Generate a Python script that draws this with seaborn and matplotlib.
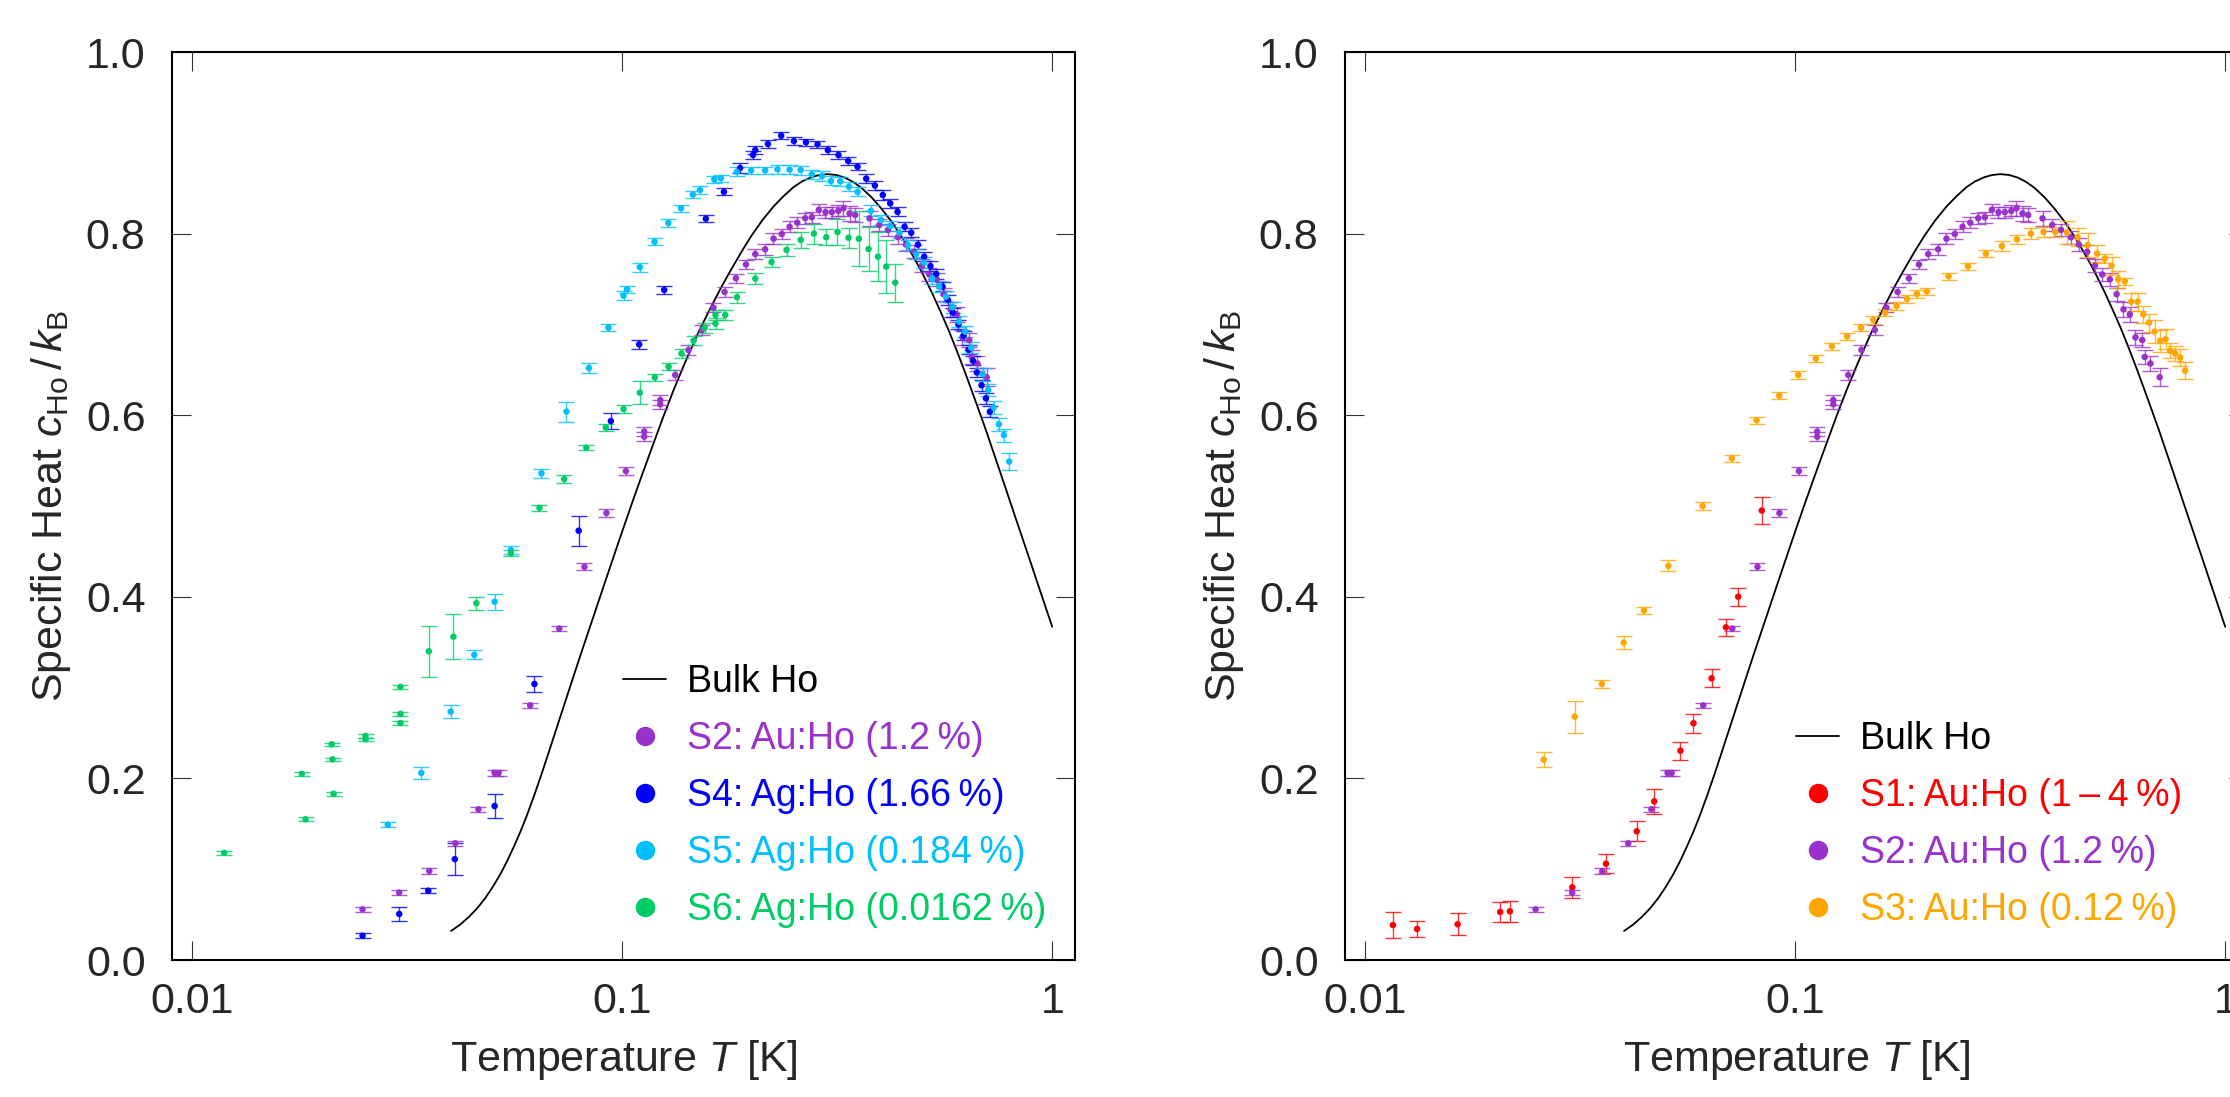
import matplotlib
matplotlib.use("Agg")
import matplotlib.pyplot as plt
from matplotlib.lines import Line2D
from matplotlib.ticker import FixedLocator, FixedFormatter, NullLocator
import seaborn as sns

sns.set_style("ticks")
plt.rcParams['font.family'] = ['Liberation Sans', 'DejaVu Sans']
plt.rcParams['mathtext.fontset'] = 'custom'
plt.rcParams['mathtext.rm'] = 'Liberation Sans'
plt.rcParams['mathtext.it'] = 'Liberation Sans:italic'

# bulk Ho curve
bulk_T = [0.040, 0.042, 0.044, 0.046, 0.048, 0.050, 0.052, 0.054, 0.056, 0.058,
          0.060, 0.0625, 0.065, 0.0675, 0.070, 0.075, 0.080, 0.085, 0.090, 0.095,
          0.100, 0.105, 0.110, 0.117, 0.125, 0.132, 0.140, 0.150, 0.160, 0.170,
          0.180, 0.190, 0.200, 0.212, 0.225, 0.237, 0.250, 0.262, 0.275, 0.287,
          0.300, 0.315, 0.330, 0.345, 0.360, 0.380, 0.400, 0.425, 0.450, 0.475,
          0.500, 0.525, 0.550, 0.575, 0.600, 0.625, 0.650, 0.675, 0.700, 0.740,
          0.780, 0.815, 0.850, 0.885, 0.920, 0.960, 1.000]
bulk_c = [0.032, 0.039, 0.0475, 0.057, 0.068, 0.0805, 0.094, 0.109, 0.125, 0.1415,
          0.159, 0.182, 0.2055, 0.229, 0.252, 0.2955, 0.336, 0.373, 0.408, 0.441,
          0.472, 0.501, 0.528, 0.563, 0.600, 0.629, 0.658, 0.690, 0.717, 0.741,
          0.762, 0.781, 0.798, 0.815, 0.830, 0.841, 0.851, 0.8575, 0.862, 0.8645,
          0.8655, 0.8645, 0.8615, 0.8567, 0.8504, 0.840, 0.828, 0.812, 0.794, 0.775,
          0.7555, 0.735, 0.714, 0.693, 0.671, 0.649, 0.627, 0.6055, 0.5846, 0.551,
          0.519, 0.492, 0.4665, 0.442, 0.418, 0.392, 0.367]

# S1: Au:Ho (1-4 %)
s1_T = [0.0116, 0.0132, 0.0164, 0.0206, 0.0217, 0.0303, 0.0363, 0.0428, 0.0470,
        0.0541, 0.0580, 0.0639, 0.0690, 0.0737, 0.0836]
s1_c = [0.0385, 0.0342, 0.0393, 0.0529, 0.0536, 0.0800, 0.1060, 0.1417, 0.1747,
        0.2305, 0.2607, 0.3102, 0.3664, 0.4001, 0.4950]
s1_err = [0.0147, 0.0092, 0.0123, 0.0105, 0.0114, 0.0116, 0.0105, 0.011, 0.0141,
          0.010, 0.0103, 0.010, 0.0095, 0.0099, 0.0147]

# S2: Au:Ho (1.2 %)
s2_T = [0.0249, 0.0303, 0.0356, 0.0409, 0.0463, 0.0505, 0.0516, 0.0611, 0.0714,
        0.0817, 0.0919, 0.1020, 0.1125, 0.1125, 0.1226, 0.1226, 0.1328, 0.1426,
        0.1532, 0.1630, 0.1730, 0.1838, 0.1940, 0.2039, 0.2150, 0.2248, 0.2350,
        0.2450, 0.2553, 0.2665, 0.2760, 0.2866, 0.2970, 0.3073, 0.3180, 0.3270,
        0.3378, 0.3482, 0.3760, 0.3960, 0.4150, 0.4376, 0.4567, 0.4775, 0.4977,
        0.5176, 0.5393, 0.5590, 0.5800, 0.6000, 0.6185, 0.6412, 0.6500, 0.6700,
        0.7040]
s2_c = [0.0558, 0.0742, 0.0980, 0.1285, 0.1660, 0.2060, 0.2060, 0.2805, 0.3650,
        0.4330, 0.4923, 0.5385, 0.5820, 0.5763, 0.6167, 0.6120, 0.6443, 0.6718,
        0.6938, 0.7184, 0.7357, 0.7508, 0.7660, 0.7775, 0.7827, 0.7944, 0.7996,
        0.8076, 0.8120, 0.8170, 0.8180, 0.8262, 0.8236, 0.8236, 0.8250, 0.8278,
        0.8223, 0.8205, 0.8168, 0.8095, 0.8040, 0.7960, 0.7880, 0.7800, 0.7647,
        0.7549, 0.7496, 0.7333, 0.7166, 0.7111, 0.6857, 0.6828, 0.6641, 0.6570,
        0.6418]
s2_err = [0.003, 0.003, 0.003, 0.003, 0.003, 0.003, 0.003, 0.003, 0.003,
          0.004, 0.004, 0.004, 0.005, 0.005, 0.005, 0.005, 0.005, 0.005,
          0.005, 0.005, 0.005, 0.005, 0.005, 0.006, 0.006, 0.006, 0.006,
          0.006, 0.006, 0.006, 0.006, 0.006, 0.006, 0.006, 0.006, 0.008,
          0.008, 0.008, 0.008, 0.007, 0.007, 0.007, 0.007, 0.007, 0.007,
          0.007, 0.007, 0.007, 0.008, 0.008, 0.008, 0.008, 0.008, 0.008,
          0.010]

# S3: Au:Ho (0.12 %)
s3_T = [0.0260, 0.0307, 0.0355, 0.0399, 0.0445, 0.0507, 0.0609, 0.0712, 0.0813,
        0.0918, 0.1016, 0.1117, 0.1217, 0.1320, 0.1422, 0.1519, 0.1620, 0.1720,
        0.1819, 0.1919, 0.2024, 0.2273, 0.2522, 0.2776, 0.3025, 0.3278, 0.3532,
        0.3780, 0.4025, 0.4284, 0.4535, 0.4784, 0.5038, 0.5250, 0.5440, 0.5639,
        0.5844, 0.6045, 0.6253, 0.6450, 0.6648, 0.6848, 0.7062, 0.7265, 0.7450,
        0.7650, 0.7858, 0.8070]
s3_c = [0.2206, 0.2680, 0.3040, 0.3495, 0.3850, 0.4340, 0.5000, 0.5526, 0.5944,
        0.6215, 0.6443, 0.6623, 0.6759, 0.6868, 0.6964, 0.7048, 0.7129, 0.7203,
        0.7280, 0.7335, 0.7364, 0.7530, 0.7640, 0.7780, 0.7863, 0.7937, 0.8000,
        0.8018, 0.8018, 0.8011, 0.7960, 0.7874, 0.7780, 0.7724, 0.7647, 0.7496,
        0.7474, 0.7250, 0.7250, 0.7110, 0.7020, 0.6920, 0.6820, 0.6836, 0.6710,
        0.6680, 0.6637, 0.6490]
s3_err = [0.008, 0.0176, 0.004, 0.007, 0.004, 0.006, 0.004, 0.004, 0.004,
          0.004, 0.004, 0.004, 0.004, 0.004, 0.004, 0.004, 0.004, 0.004,
          0.004, 0.004, 0.004, 0.004, 0.004, 0.004, 0.005, 0.005, 0.006,
          0.006, 0.006, 0.0125, 0.010, 0.013, 0.009, 0.005, 0.010, 0.009,
          0.004, 0.010, 0.010, 0.0095, 0.010, 0.0125, 0.012, 0.011, 0.008,
          0.008, 0.009, 0.0095]

# S4: Ag:Ho (1.66 %)
s4_T = [0.0249, 0.0303, 0.0354, 0.0408, 0.0505, 0.0625, 0.0792, 0.0941, 0.1095,
        0.1252, 0.1565, 0.1724, 0.1880, 0.2014, 0.2039, 0.2182, 0.2343, 0.2508,
        0.2675, 0.2845, 0.3008, 0.3184, 0.3354, 0.3526, 0.3693, 0.3869, 0.4037,
        0.4200, 0.4368, 0.4535, 0.4700, 0.4872, 0.5038, 0.5210, 0.5373, 0.5559,
        0.5721, 0.5875, 0.6054, 0.6220, 0.6390, 0.6540, 0.6680, 0.6848, 0.7012,
        0.7163]
s4_c = [0.0268, 0.0507, 0.0763, 0.1110, 0.1696, 0.3040, 0.4728, 0.5936, 0.6780,
        0.7380, 0.8164, 0.8460, 0.8722, 0.8866, 0.8920, 0.8987, 0.9078, 0.9020,
        0.9006, 0.8983, 0.8920, 0.8866, 0.8800, 0.8737, 0.8605, 0.8530, 0.8425,
        0.8333, 0.8240, 0.8076, 0.8010, 0.7878, 0.7746, 0.7643, 0.7555, 0.7416,
        0.7269, 0.7130, 0.7000, 0.6876, 0.6720, 0.6600, 0.6470, 0.6330, 0.6186,
        0.6040]
s4_err = [0.003, 0.0075, 0.003, 0.0175, 0.013, 0.009, 0.0165, 0.0086, 0.005,
          0.004, 0.004, 0.004, 0.006, 0.004, 0.004, 0.004, 0.004, 0.004,
          0.004, 0.004, 0.004, 0.004, 0.004, 0.004, 0.005, 0.005, 0.005,
          0.005, 0.005, 0.005, 0.005, 0.005, 0.005, 0.005, 0.005, 0.005,
          0.005, 0.005, 0.005, 0.005, 0.005, 0.005, 0.005, 0.006, 0.006,
          0.006]

# S5: Ag:Ho (0.184 %)
s5_T = [0.0285, 0.0341, 0.0399, 0.0453, 0.0505, 0.0551, 0.0649, 0.0742, 0.0837,
        0.0929, 0.1007, 0.1026, 0.1099, 0.1189, 0.1280, 0.1370, 0.1460, 0.1517,
        0.1637, 0.1696, 0.1848, 0.1995, 0.2150, 0.2297, 0.2450, 0.2600, 0.2760,
        0.2913, 0.3057, 0.3214, 0.3367, 0.3526, 0.3787, 0.3996, 0.4200, 0.4415,
        0.4618, 0.4827, 0.5038, 0.5260, 0.5460, 0.5660, 0.5865, 0.6077, 0.6277,
        0.6480, 0.6886, 0.7100, 0.7304, 0.7516, 0.7720, 0.7943]
s5_c = [0.1490, 0.2060, 0.2735, 0.3360, 0.3946, 0.4515, 0.5360, 0.6040, 0.6520,
        0.6964, 0.7317, 0.7386, 0.7630, 0.7910, 0.8117, 0.8280, 0.8430, 0.8480,
        0.8598, 0.8610, 0.8680, 0.8697, 0.8697, 0.8708, 0.8705, 0.8700, 0.8653,
        0.8634, 0.8580, 0.8576, 0.8517, 0.8460, 0.8250, 0.8150, 0.8084, 0.8010,
        0.7874, 0.7775, 0.7680, 0.7507, 0.7416, 0.7305, 0.7188, 0.7030, 0.6920,
        0.6744, 0.6450, 0.6278, 0.6083, 0.5900, 0.5780, 0.5490]
s5_err = [0.003, 0.0065, 0.007, 0.005, 0.009, 0.004, 0.005, 0.011, 0.006,
          0.004, 0.005, 0.004, 0.005, 0.004, 0.004, 0.004, 0.004, 0.004,
          0.004, 0.004, 0.005, 0.004, 0.004, 0.005, 0.005, 0.005, 0.005,
          0.005, 0.005, 0.005, 0.005, 0.005, 0.006, 0.006, 0.006, 0.006,
          0.006, 0.006, 0.006, 0.006, 0.006, 0.006, 0.006, 0.006, 0.006,
          0.006, 0.007, 0.007, 0.007, 0.007, 0.007, 0.009]

# S6: Ag:Ho (0.0162 %)
s6_T = [0.01187, 0.01799, 0.01835, 0.0211, 0.0212, 0.02132, 0.0253, 0.0253,
        0.0305, 0.0305, 0.0305, 0.0355, 0.0405, 0.0458, 0.0551, 0.0642, 0.0733,
        0.0825, 0.0916, 0.1007, 0.1099, 0.1191, 0.1282, 0.1374, 0.1465, 0.1554,
        0.1648, 0.1648, 0.1736, 0.1848, 0.2039, 0.2225, 0.2411, 0.2600, 0.2791,
        0.2982, 0.3167, 0.3360, 0.3551, 0.3741, 0.3933, 0.4111, 0.4314]
s6_c = [0.118, 0.205, 0.155, 0.2375, 0.221, 0.183, 0.2467, 0.243,
        0.3007, 0.271, 0.261, 0.340, 0.356, 0.393, 0.448, 0.498, 0.5297,
        0.5642, 0.5866, 0.6068, 0.6248, 0.6417, 0.6534, 0.668, 0.682, 0.696,
        0.701, 0.7104, 0.7104, 0.730, 0.7504, 0.7687, 0.782, 0.793, 0.800,
        0.796, 0.8018, 0.7955, 0.7944, 0.783, 0.7746, 0.7636, 0.746]
s6_err = [0.002, 0.002, 0.002, 0.002, 0.002, 0.002, 0.002, 0.002,
          0.002, 0.002, 0.002, 0.028, 0.025, 0.007, 0.003, 0.003, 0.004,
          0.003, 0.004, 0.004, 0.013, 0.004, 0.004, 0.005, 0.005, 0.005,
          0.006, 0.006, 0.006, 0.006, 0.006, 0.006, 0.007, 0.009, 0.011,
          0.009, 0.014, 0.011, 0.030, 0.024, 0.027, 0.029, 0.021]

col_s1 = "#ff0000"
col_s2 = "#9932cc"
col_s3 = "#ffa500"
col_s4 = "#0000ff"
col_s5 = "#00bfff"
col_s6 = "#00cc66"

lbl_s1 = "S1:\u2009Au:Ho (1\u2009\u2013\u20094\u2009%)"
lbl_s2 = "S2:\u2009Au:Ho (1.2\u2009%)"
lbl_s3 = "S3:\u2009Au:Ho (0.12\u2009%)"
lbl_s4 = "S4:\u2009Ag:Ho (1.66\u2009%)"
lbl_s5 = "S5:\u2009Ag:Ho (0.184\u2009%)"
lbl_s6 = "S6:\u2009Ag:Ho (0.0162\u2009%)"


def draw_series(ax, T, c, err, color):
    ax.errorbar(T, c, yerr=err, fmt='none', ecolor=color, elinewidth=1.0,
                capsize=5.5, capthick=1.0, alpha=0.8, zorder=2)
    sns.scatterplot(x=T, y=c, ax=ax, color=color, s=22, edgecolor='none',
                    linewidth=0, zorder=3, legend=False)


def style_axes(ax):
    ax.set_xscale('log')
    ax.set_xlim(10 ** -2.047, 10 ** 0.053)
    ax.set_ylim(0, 1)
    ax.xaxis.set_major_locator(FixedLocator([0.01, 0.1, 1]))
    ax.xaxis.set_major_formatter(FixedFormatter(["0.01", "0.1", "1"]))
    ax.xaxis.set_minor_locator(NullLocator())
    ax.set_yticks([0.0, 0.2, 0.4, 0.6, 0.8, 1.0])
    ax.set_yticklabels(["0.0", "0.2", "0.4", "0.6", "0.8", "1.0"])
    ax.tick_params(which='major', direction='in', length=13.5, width=0.8,
                   color='#333333', top=True, right=True, labelsize=31)
    ax.tick_params(axis='y', pad=19)
    ax.tick_params(axis='x', pad=16)
    for sp in ax.spines.values():
        sp.set_linewidth(1.5)
        sp.set_color('black')
    ax.set_xlabel("Temperature $T$ [K]", fontsize=31, labelpad=11)
    ax.set_ylabel(r"Specific Heat $c_{\mathrm{Ho}}\,/\,k_{\mathrm{B}}$",
                  fontsize=31, labelpad=9)


def add_legend(ax, labels, colors):
    handles = [Line2D([], [], color='black', lw=1.3)]
    for col in colors:
        handles.append(Line2D([], [], marker='o', ls='none', color=col,
                              markersize=13))
    ax.legend(handles, ["Bulk Ho"] + labels, loc='lower left',
              bbox_to_anchor=(0.499, 0.035), borderaxespad=0, borderpad=0,
              frameon=False, fontsize=27, handlelength=1.17,
              handletextpad=0.55, labelspacing=0.56,
              labelcolor=['black'] + colors)


fig = plt.figure(figsize=(22.3, 10.97), dpi=100)
ax1 = fig.add_axes([172 / 2230, 137 / 1097, 903 / 2230, 908 / 1097])
ax2 = fig.add_axes([1345 / 2230, 137 / 1097, 903 / 2230, 908 / 1097])

# left panel
sns.lineplot(x=bulk_T, y=bulk_c, ax=ax1, color='black', lw=1.3, sort=False,
             estimator=None, zorder=1)
draw_series(ax1, s2_T, s2_c, s2_err, col_s2)
draw_series(ax1, s4_T, s4_c, s4_err, col_s4)
draw_series(ax1, s5_T, s5_c, s5_err, col_s5)
draw_series(ax1, s6_T, s6_c, s6_err, col_s6)
style_axes(ax1)
add_legend(ax1, [lbl_s2, lbl_s4, lbl_s5, lbl_s6], [col_s2, col_s4, col_s5, col_s6])

# right panel
sns.lineplot(x=bulk_T, y=bulk_c, ax=ax2, color='black', lw=1.3, sort=False,
             estimator=None, zorder=1)
draw_series(ax2, s1_T, s1_c, s1_err, col_s1)
draw_series(ax2, s2_T, s2_c, s2_err, col_s2)
draw_series(ax2, s3_T, s3_c, s3_err, col_s3)
style_axes(ax2)
add_legend(ax2, [lbl_s1, lbl_s2, lbl_s3], [col_s1, col_s2, col_s3])

fig.savefig("out.png", dpi=100)
plt.close()
